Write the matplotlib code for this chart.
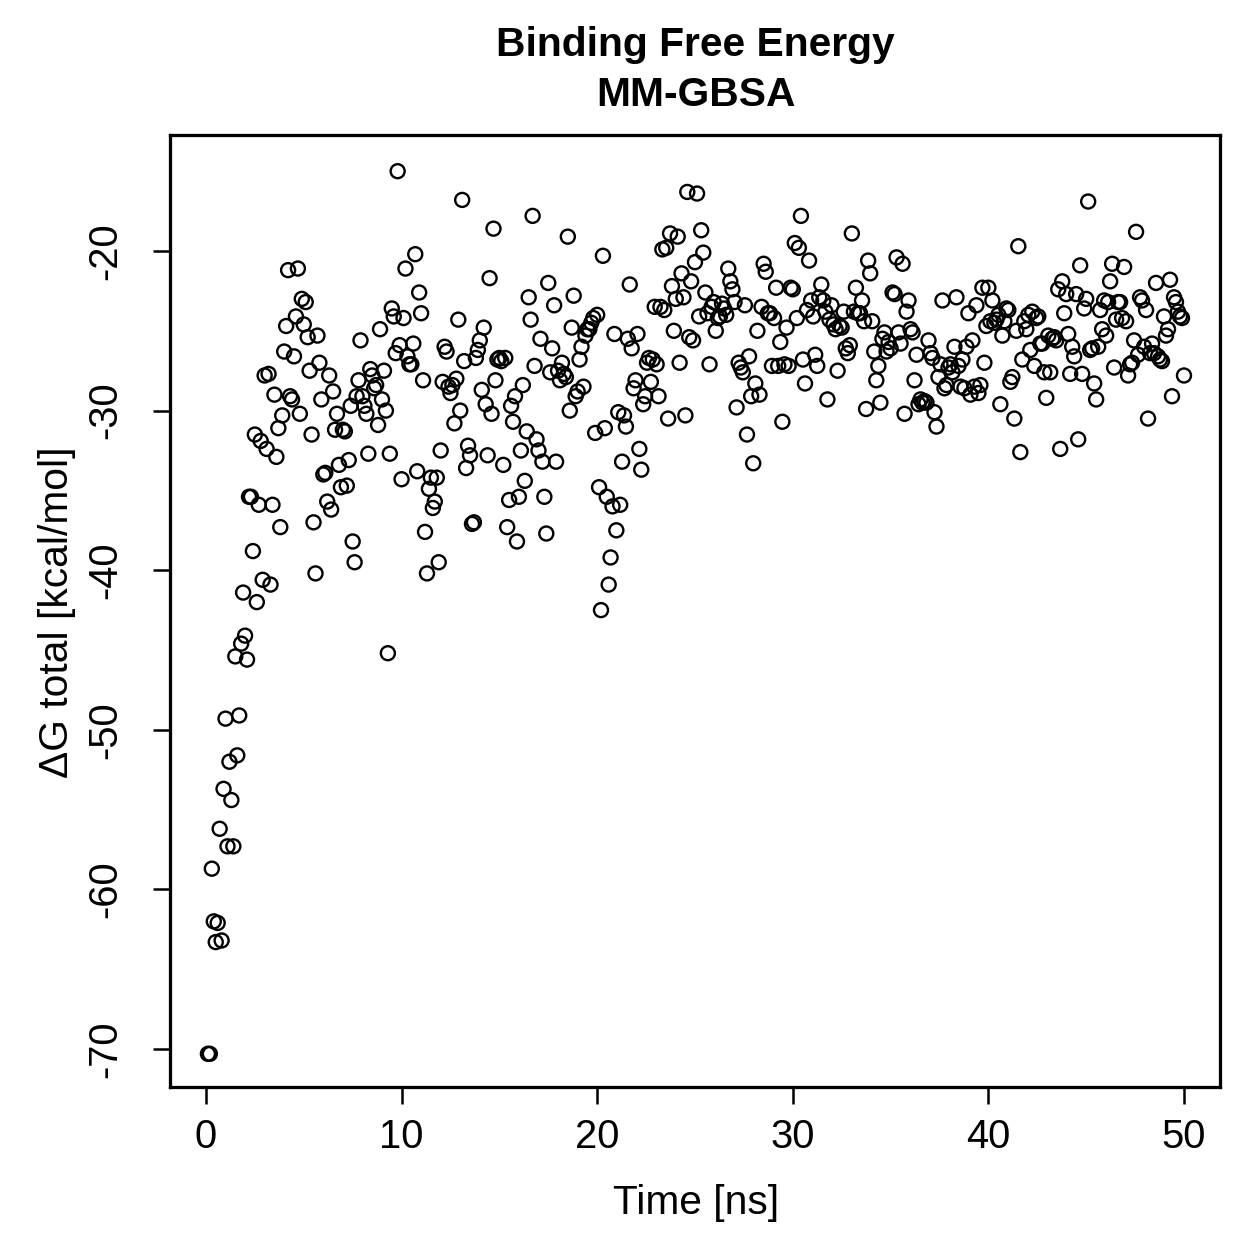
import numpy as np
import matplotlib
matplotlib.use("Agg")
import matplotlib.pyplot as plt

plt.rcParams['font.family'] = ['Liberation Sans', 'DejaVu Sans']
plt.rcParams['axes.unicode_minus'] = False

# Delta G total (kcal/mol), read segment by segment (5 ns each)
seg_00_05 = [-70.3, -70.3, -58.7, -62.0, -63.3, -62.1, -56.2, -63.2, -53.7, -49.3,
             -57.3, -52.0, -54.4, -57.3, -45.4, -51.6, -49.1, -44.6, -41.4, -44.1,
             -45.6, -35.4, -35.4, -38.8, -31.5, -42.0, -35.9, -31.9, -40.6, -27.8,
             -32.4, -27.7, -40.9, -35.9, -29.0, -32.9, -31.1, -37.3, -30.3, -26.3,
             -24.7, -21.2, -29.1, -29.3, -26.6, -24.1, -21.1, -30.2, -23.0, -24.6]
seg_05_10 = [-23.2, -25.4, -27.5, -31.5, -37.0, -40.2, -25.3, -27.0, -29.3, -34.0,
             -33.9, -35.7, -27.8, -36.2, -28.8, -31.2, -30.2, -33.4, -34.8, -31.2,
             -31.3, -34.7, -33.1, -29.7, -38.2, -39.5, -29.1, -28.1, -25.6, -29.1,
             -29.7, -30.2, -32.7, -27.4, -27.8, -28.6, -28.4, -30.9, -24.9, -29.3,
             -27.5, -30.0, -45.2, -32.7, -23.6, -24.1, -26.4, -15.0, -25.9, -34.3]
seg_10_15 = [-24.2, -21.1, -26.6, -27.1, -27.1, -25.8, -20.2, -33.8, -22.6, -23.9,
             -28.1, -37.6, -40.2, -34.9, -34.2, -36.1, -35.7, -34.2, -39.5, -32.5,
             -28.2, -26.0, -26.3, -28.5, -28.9, -28.4, -30.8, -28.0, -24.3, -30.0,
             -16.8, -26.9, -33.6, -32.2, -32.8, -37.1, -37.0, -26.7, -26.2, -25.6,
             -28.7, -24.8, -29.6, -32.8, -21.7, -30.2, -18.6, -28.1, -26.8, -26.7]
seg_15_20 = [-26.9, -33.4, -26.7, -37.3, -35.6, -29.7, -30.7, -29.1, -38.2, -35.4,
             -32.5, -28.4, -34.4, -31.3, -22.9, -24.3, -17.8, -27.2, -31.8, -32.5,
             -25.5, -33.2, -35.4, -37.7, -22.0, -27.6, -26.1, -23.4, -33.2, -27.5,
             -28.1, -27.0, -27.7, -27.9, -19.1, -30.0, -24.8, -22.8, -29.1, -28.8,
             -26.8, -26.0, -28.5, -25.3, -24.9, -24.9, -24.5, -24.2, -31.4, -24.0]
seg_20_25 = [-34.8, -42.5, -20.3, -31.1, -35.4, -40.9, -39.2, -36.0, -25.2, -37.5,
             -30.1, -35.9, -33.2, -30.3, -31.0, -25.5, -22.1, -26.1, -28.6, -28.1,
             -25.2, -32.4, -33.7, -29.6, -29.1, -27.0, -26.7, -28.2, -26.8, -23.5,
             -27.1, -29.1, -23.5, -19.9, -23.7, -19.8, -30.5, -18.9, -22.2, -25.0,
             -23.0, -19.1, -27.0, -21.4, -22.9, -30.3, -16.3, -25.4, -21.9, -25.6,
             -20.7]
seg_25_30 = [-16.4, -24.1, -18.7, -20.1, -22.6, -23.9, -27.1, -23.5, -23.2, -25.0,
             -24.2, -24.1, -23.3, -23.6, -24.0, -21.1, -21.9, -22.4, -23.2, -29.8,
             -27.0, -27.3, -27.6, -23.4, -31.5, -26.6, -29.1, -33.3, -28.3, -25.0,
             -29.0, -23.5, -20.8, -21.3, -23.9, -23.9, -27.2, -24.2, -22.3, -27.2,
             -25.7, -30.7, -27.1, -24.8, -27.2, -22.3, -22.4]
seg_30_35 = [-19.5, -24.2, -19.8, -17.8, -26.8, -28.3, -23.7, -20.6, -23.1, -24.1,
             -26.5, -27.2, -22.9, -22.1, -23.1, -23.8, -29.3, -24.3, -23.4, -24.6,
             -24.9, -27.5, -24.7, -24.8, -23.8, -26.1, -26.4, -25.9, -18.9, -23.8,
             -22.3, -23.9, -23.9, -23.1, -24.4, -29.9, -20.6, -21.4, -24.4, -26.3,
             -28.1, -27.2, -29.5, -25.5, -25.1, -26.3, -25.7, -26.1]
seg_35_40 = [-22.6, -22.7, -20.4, -25.1, -25.8, -20.8, -30.2, -23.8, -23.1, -24.9,
             -25.1, -28.1, -26.5, -29.6, -29.3, -29.5, -29.4, -29.5, -25.6, -26.4,
             -26.7, -30.1, -31.0, -27.9, -27.1, -23.1, -28.6, -28.4, -27.3, -27.1,
             -27.6, -26.0, -22.9, -27.2, -28.5, -26.8, -28.6, -26.0, -23.9, -29.0,
             -25.6, -28.5, -23.4, -28.9, -28.4, -22.3, -27.0, -24.7, -22.3]
seg_40_45 = [-24.4, -23.1, -24.5, -24.3, -24.0, -29.6, -25.3, -24.4, -23.6, -23.7,
             -28.2, -27.9, -30.5, -25.0, -19.7, -32.6, -26.8, -24.4, -24.9, -24.0,
             -26.2, -23.8, -27.2, -24.2, -24.1, -25.8, -25.8, -27.6, -29.2, -25.3,
             -27.6, -25.5, -25.4, -25.6, -22.4, -32.4, -21.9, -23.9, -22.7, -25.2,
             -27.7, -26.0, -26.6, -22.7, -31.8, -20.9, -27.7, -23.6, -23.0]
seg_45_50 = [-16.9, -26.2, -26.1, -28.3, -29.3, -26.0, -23.7, -24.9, -23.1, -25.3,
             -23.2, -21.9, -20.8, -27.3, -24.3, -23.2, -23.2, -24.2, -21.0, -24.4,
             -27.8, -27.1, -27.0, -25.6, -18.8, -26.5, -22.9, -23.1, -26.0, -23.7,
             -30.5, -26.4, -25.8, -26.4, -22.0, -26.6, -26.8, -26.9, -24.1, -25.3,
             -24.9, -21.8, -29.1, -22.9, -23.2, -23.8, -24.1, -24.2, -27.8]

segments = [seg_00_05, seg_05_10, seg_10_15, seg_15_20, seg_20_25,
            seg_25_30, seg_30_35, seg_35_40, seg_40_45, seg_45_50]
seg_starts = [0, 5, 10, 15, 20, 25, 30, 35, 40, 45]

time_ns = []
dg_total = []
for start, seg in zip(seg_starts, segments):
    n = len(seg)
    time_ns.extend(list(start + 5.0 * (np.arange(n) + 1) / n))
    dg_total.extend(seg)

x_ticks = [0, 10, 20, 30, 40, 50]
y_ticks = [-70, -60, -50, -40, -30, -20]

fig = plt.figure(figsize=(1259 / 180, 1259 / 180), dpi=180)
ax = fig.add_axes([0.135, 0.1366, 0.834, 0.7562])
ax.scatter(time_ns, dg_total, s=5.6 ** 2, facecolors='none', edgecolors='black',
           linewidths=0.95)
ax.set_xlim(-1.84, 51.84)
ax.set_ylim(-72.38, -12.73)
ax.set_xticks(x_ticks)
ax.set_yticks(y_ticks)
ax.set_yticklabels([str(v) for v in y_ticks], rotation=90, va='center')
ax.tick_params(direction='out', length=6.8, width=1.0, labelsize=16, color='black')
ax.tick_params(axis='x', pad=5.5)
ax.tick_params(axis='y', pad=11.5)
for sp in ax.spines.values():
    sp.set_linewidth(1.3)

fig.text(0.5525, 1 - 45 / 1259, 'Binding Free Energy', ha='center', va='center',
         fontsize=16.3, fontweight='bold')
fig.text(0.5525, 1 - 95 / 1259, 'MM-GBSA', ha='center', va='center',
         fontsize=16.3, fontweight='bold')
fig.text(0.5525, 1 - 1203 / 1259, 'Time [ns]', ha='center', va='center', fontsize=16.3)
fig.text(57 / 1259, 1 - 612 / 1259, 'ΔG total [kcal/mol]', ha='center', va='center',
         rotation=90, fontsize=16.3)

fig.savefig('out.png', dpi=180)
